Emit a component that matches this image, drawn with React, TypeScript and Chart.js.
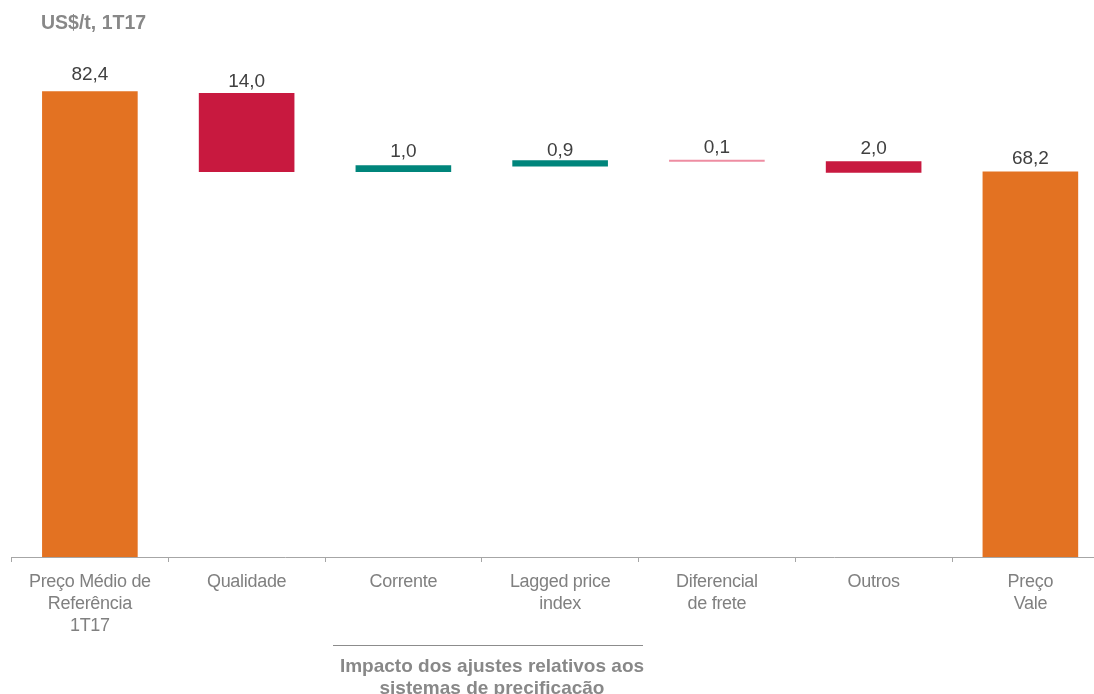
import React, { useEffect, useRef } from 'react';
import { Chart, registerables } from 'chart.js';

Chart.register(...registerables);

// ---- Data ----
const categories: string[][] = [
  ['Preço Médio de', 'Referência', '1T17'],
  ['Qualidade'],
  ['Corrente'],
  ['Lagged price', 'index'],
  ['Diferencial', 'de frete'],
  ['Outros'],
  ['Preço', 'Vale'],
];
const barStarts = [0, 68.1, 68.1, 69.1, 69.95, 68.0, 0];
const barEnds = [82.4, 82.1, 69.3, 70.2, 70.3, 70.0, 68.2];
const valueLabels = ['82,4', '14,0', '1,0', '0,9', '0,1', '2,0', '68,2'];
const barColors = ['#E37222', '#C8193F', '#00857B', '#00857B', '#EE8DA2', '#C8193F', '#E37222'];
const labelGaps = [11, 5.5, 8, 4.5, 6.5, 7.5, 7.5];

const titleText = 'US$/t, 1T17';
const noteLines = ['Impacto dos ajustes relativos aos', 'sistemas de precificacão'];

const FONT = '"Liberation Sans", Arial, Helvetica, sans-serif';

const valueLabelPlugin = {
  id: 'valueLabels',
  beforeDraw(chart: any) {
    chart.ctx.letterSpacing = '-0.3px';
  },
  afterDatasetsDraw(chart: any) {
    const ctx = chart.ctx;
    const meta = chart.getDatasetMeta(0);
    ctx.save();
    ctx.letterSpacing = '0px';
    ctx.font = `19px ${FONT}`;
    ctx.fillStyle = '#404040';
    ctx.textAlign = 'center';
    ctx.textBaseline = 'alphabetic';
    meta.data.forEach((el: any, i: number) => {
      const top = Math.min(el.y, el.base);
      ctx.fillText(valueLabels[i], el.x, top - labelGaps[i]);
    });
    ctx.restore();
    ctx.letterSpacing = '-0.3px';
  },
};

export default function App() {
  const canvasRef = useRef<HTMLCanvasElement | null>(null);

  useEffect(() => {
    if (!canvasRef.current) return;
    const chart = new Chart(canvasRef.current, {
      type: 'bar',
      data: {
        labels: categories,
        datasets: [
          {
            data: barStarts.map((s, i) => [s, barEnds[i]]) as any,
            backgroundColor: barColors,
            borderWidth: 0,
            barPercentage: 0.61,
            categoryPercentage: 1,
          },
        ],
      },
      options: {
        responsive: false,
        animation: false,
        devicePixelRatio: 1,
        layout: { padding: { left: 11.5, right: 1.25, top: 48.3, bottom: 0 } },
        plugins: {
          legend: { display: false },
          tooltip: { enabled: false },
          title: { display: false },
        },
        scales: {
          x: {
            type: 'category',
            offset: true,
            grid: {
              display: true,
              drawOnChartArea: false,
              drawTicks: true,
              tickLength: 5,
              color: '#a6a6a6',
              offset: true,
            },
            border: { display: true, color: '#a6a6a6', width: 1 },
            ticks: {
              color: '#808080',
              font: { family: FONT, size: 18, lineHeight: 22 / 18 },
              padding: 9,
              maxRotation: 0,
              minRotation: 0,
              autoSkip: false,
            },
            afterFit: (scale: any) => {
              scale.height = 137;
            },
          },
          y: { display: false, min: 0, max: 90 },
        },
      },
      plugins: [valueLabelPlugin],
    } as any);
    return () => chart.destroy();
  }, []);

  return (
    <div
      style={{
        position: 'fixed',
        left: 0,
        top: 0,
        width: '100vw',
        height: '100vh',
        overflow: 'hidden',
        background: '#ffffff',
      }}
    >
      <canvas
        ref={canvasRef}
        width={1110}
        height={694}
        style={{ position: 'absolute', left: 0, top: 0, display: 'block' }}
      />
      <div
        style={{
          position: 'absolute',
          left: 41,
          top: 12,
          fontFamily: FONT,
          fontWeight: 'bold',
          fontSize: 19.5,
          lineHeight: '20px',
          color: '#888888',
          whiteSpace: 'nowrap',
        }}
      >
        {titleText}
      </div>
      <div
        style={{
          position: 'absolute',
          left: 333,
          top: 645,
          width: 310,
          height: 1,
          background: '#8c8c8c',
        }}
      />
      <div
        style={{
          position: 'absolute',
          left: 292,
          top: 655,
          width: 400,
          textAlign: 'center',
          fontFamily: FONT,
          fontWeight: 'bold',
          fontSize: 19,
          lineHeight: '22px',
          color: '#888888',
          whiteSpace: 'nowrap',
        }}
      >
        {noteLines.map((l, i) => (
          <div key={i}>{l}</div>
        ))}
      </div>
    </div>
  );
}
